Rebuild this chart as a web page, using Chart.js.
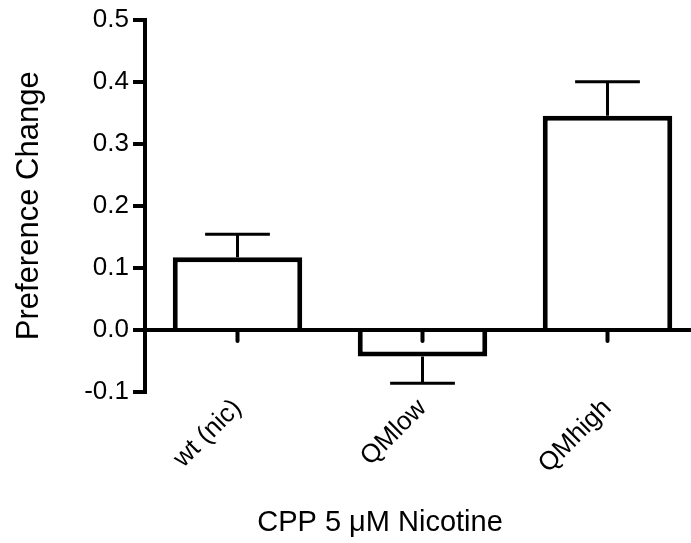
<!DOCTYPE html>
<html>
<head>
<meta charset="utf-8">
<script src="https://cdn.jsdelivr.net/npm/chart.js@4/dist/chart.umd.min.js"></script>
<style>
  html, body { margin: 0; padding: 0; background: #fff; overflow: hidden; }
  canvas { display: block; }
</style>
</head>
<body>
<canvas id="prefChart" width="700" height="543" style="width:700px;height:543px"></canvas>
<script>
// data
const categories = ["wt (nic)", "QMlow", "QMhigh"];
const meanValues = [0.117, -0.043, 0.345];
const errorValues = [0.037, 0.043, 0.055]; // SEM, drawn away from zero only
const yMin = -0.1;
const yMax = 0.5;
const yStep = 0.1;
const xTitle = "CPP 5 μM Nicotine";

const FONT = "'Liberation Sans', Arial, Helvetica, sans-serif";
Chart.defaults.color = "#000";
Chart.defaults.font.family = FONT;

// zero line, x ticks, error bars and x title drawn on top of the bars
const overlayPlugin = {
  id: "overlay",
  afterDatasetsDraw(chart) {
    const ctx = chart.ctx;
    const x = chart.scales.x;
    const y = chart.scales.y;
    const area = chart.chartArea;
    const y0 = y.getPixelForValue(0);
    const meta = chart.getDatasetMeta(0);

    ctx.save();
    ctx.strokeStyle = "#000";

    // error bars
    ctx.lineWidth = 3;
    ctx.lineCap = "butt";
    meta.data.forEach((bar, i) => {
      const v = meanValues[i];
      const e = errorValues[i];
      const yv = y.getPixelForValue(v);
      const ye = y.getPixelForValue(v >= 0 ? v + e : v - e);
      const half = bar.width / 4;
      ctx.beginPath();
      ctx.moveTo(bar.x, yv);
      ctx.lineTo(bar.x, ye);
      ctx.moveTo(bar.x - half, ye);
      ctx.lineTo(bar.x + half, ye);
      ctx.stroke();
    });

    // zero line
    ctx.lineWidth = 4;
    ctx.beginPath();
    ctx.moveTo(area.left, y0);
    ctx.lineTo(area.right, y0);
    ctx.stroke();

    // category ticks hanging from the zero line
    ctx.lineCap = "round";
    categories.forEach((c, i) => {
      const px = x.getPixelForValue(i);
      ctx.beginPath();
      ctx.moveTo(px, y0);
      ctx.lineTo(px, y0 + 11);
      ctx.stroke();
    });

    // x axis title (sits left of the plot centre in the original)
    ctx.fillStyle = "#000";
    ctx.font = "29px " + FONT;
    ctx.textAlign = "center";
    ctx.textBaseline = "middle";
    ctx.fillText(xTitle, area.left + 235, chart.height - 20);
    ctx.restore();
  }
};

new Chart(document.getElementById("prefChart"), {
  type: "bar",
  data: {
    labels: categories,
    datasets: [
      {
        label: "Preference Change",
        data: meanValues,
        backgroundColor: "#fff",
        borderColor: "#000",
        borderWidth: 5,
        borderSkipped: "start",
        barPercentage: 0.70,
        categoryPercentage: 1,
      },
    ],
  },
  options: {
    responsive: false,
    animation: false,
    layout: { padding: { top: 19, right: 0, bottom: 0, left: 0 } },
    plugins: {
      legend: { display: false },
      tooltip: { enabled: false },
    },
    scales: {
      x: {
        grid: { display: false, drawTicks: false },
        border: { display: false },
        ticks: {
          font: { size: 26 },
          minRotation: 45,
          maxRotation: 45,
          padding: 1,
        },
        afterFit(scale) {
          scale.height = 151;
        },
      },
      y: {
        min: yMin,
        max: yMax,
        grid: {
          drawOnChartArea: false,
          color: "#000",
          lineWidth: 4,
          tickLength: 12,
        },
        border: { display: true, color: "#000", width: 4 },
        ticks: {
          stepSize: yStep,
          font: { size: 26 },
          padding: 4,
          callback: (v) => (Math.abs(v) < 1e-9 ? 0 : v).toFixed(1),
        },
        title: {
          display: true,
          text: "Preference Change",
          font: { size: 31 },
          padding: { top: 11, bottom: 0 },
        },
        afterFit(scale) {
          scale.width = 145;
        },
      },
    },
  },
  plugins: [overlayPlugin],
});
</script>
</body>
</html>
